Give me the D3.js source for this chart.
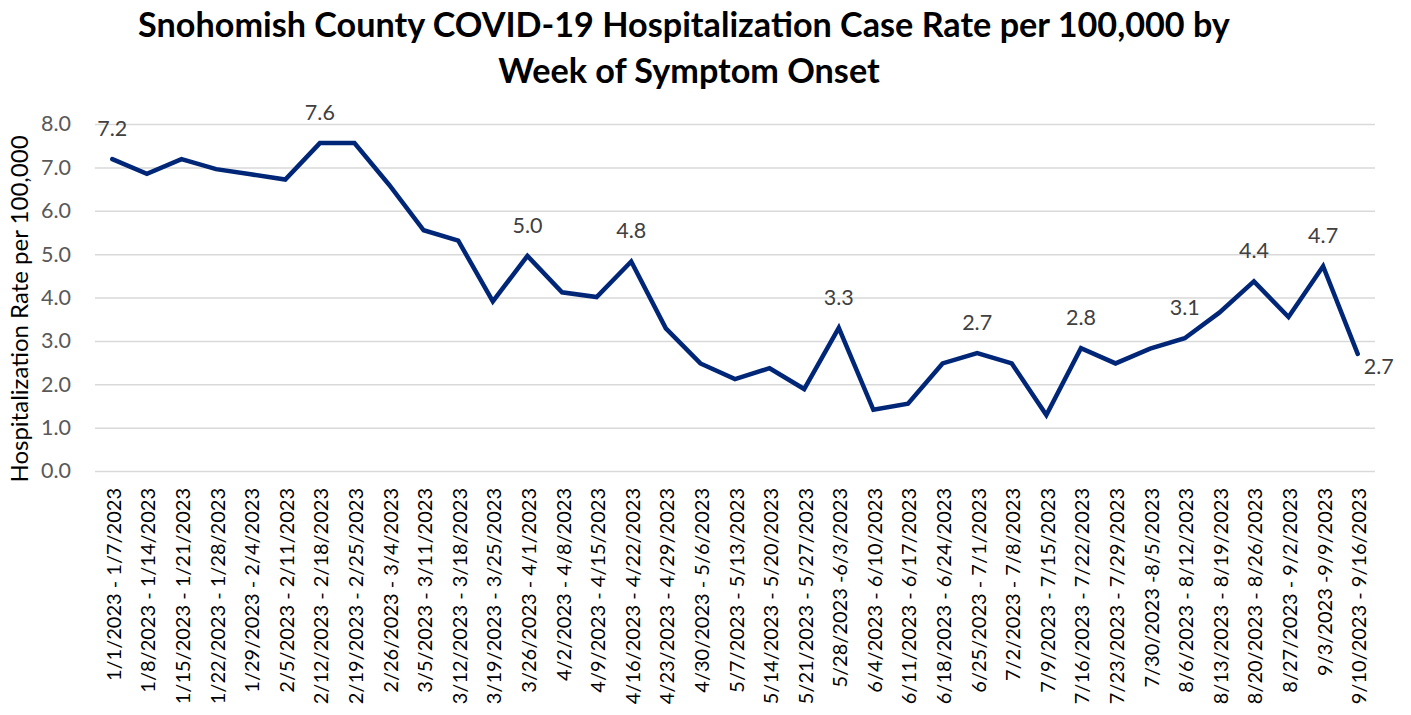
<!DOCTYPE html>
<html>
<head>
<meta charset="utf-8">
<script src="https://cdn.jsdelivr.net/npm/d3@7"></script>
<style>
  html, body { margin: 0; padding: 0; background: #fff; }
  svg { display: block; font-family: Lato, "Noto Sans", sans-serif; }
</style>
</head>
<body>
<svg id="chart" width="1411" height="715"></svg>
<script>
const titleLines = ["Snohomish County COVID-19 Hospitalization Case Rate per 100,000 by", "Week of Symptom Onset"];
const yAxisTitle = "Hospitalization Rate per 100,000";
const weeks = [
  "1/1/2023 - 1/7/2023", "1/8/2023 - 1/14/2023", "1/15/2023 - 1/21/2023", "1/22/2023 - 1/28/2023",
  "1/29/2023 - 2/4/2023", "2/5/2023 - 2/11/2023", "2/12/2023 - 2/18/2023", "2/19/2023 - 2/25/2023",
  "2/26/2023 - 3/4/2023", "3/5/2023 - 3/11/2023", "3/12/2023 - 3/18/2023", "3/19/2023 - 3/25/2023",
  "3/26/2023 - 4/1/2023", "4/2/2023 - 4/8/2023", "4/9/2023 - 4/15/2023", "4/16/2023 - 4/22/2023",
  "4/23/2023 - 4/29/2023", "4/30/2023 - 5/6/2023", "5/7/2023 - 5/13/2023", "5/14/2023 - 5/20/2023",
  "5/21/2023 - 5/27/2023", "5/28/2023 -6/3/2023", "6/4/2023 - 6/10/2023", "6/11/2023 - 6/17/2023",
  "6/18/2023 - 6/24/2023", "6/25/2023 - 7/1/2023", "7/2/2023 - 7/8/2023", "7/9/2023 - 7/15/2023",
  "7/16/2023 - 7/22/2023", "7/23/2023 - 7/29/2023", "7/30/2023 -8/5/2023", "8/6/2023 - 8/12/2023",
  "8/13/2023 - 8/19/2023", "8/20/2023 - 8/26/2023", "8/27/2023 - 9/2/2023", "9/3/2023 -9/9/2023",
  "9/10/2023 - 9/16/2023"
];
const rates = [
  7.19, 6.85, 7.19, 6.96, 6.84, 6.72, 7.56, 7.56, 6.60, 5.55, 5.31, 3.91,
  4.96, 4.12, 4.01, 4.83, 3.29, 2.48, 2.12, 2.37, 1.89, 3.30, 1.41, 1.55,
  2.48, 2.72, 2.48, 1.29, 2.83, 2.48, 2.82, 3.06, 3.65, 4.37, 3.55, 4.72,
  2.70
];
const labelledWeeks = [0, 6, 12, 15, 21, 25, 28, 31, 33, 35, 36];
const yTicks = [0, 1, 2, 3, 4, 5, 6, 7, 8];

const svg = d3.select("#chart");
const plot = { left: 95, right: 1375, top: 124, bottom: 471 };

const x = d3.scalePoint().domain(weeks).range([plot.left, plot.right]).padding(0.5);
const y = d3.scaleLinear().domain([0, 8]).range([plot.bottom, plot.top]);

// Title
const title = svg.append("text")
  .attr("text-anchor", "middle")
  .attr("font-weight", "bold")
  .attr("font-size", 34.2)
  .attr("fill", "#000");
title.append("tspan").attr("x", 684).attr("y", 37).text(titleLines[0]);
title.append("tspan").attr("x", 689).attr("y", 83).text(titleLines[1]);

// Gridlines + y axis labels
const yAxis = d3.axisLeft(y).tickValues(yTicks).tickFormat(d3.format(".1f"))
  .tickSize(-(plot.right - plot.left)).tickPadding(24);
const gy = svg.append("g").attr("transform", `translate(${plot.left},0)`).call(yAxis);
gy.select(".domain").remove();
gy.selectAll(".tick line").attr("stroke", "#d9d9d9").attr("stroke-width", 1.5);
gy.selectAll(".tick text").attr("font-size", 21.5).attr("fill", "#595959")
  .attr("font-family", "Lato, sans-serif");

// X axis labels
const xAxis = d3.axisBottom(x).tickSize(0).tickPadding(0);
const gx = svg.append("g").attr("transform", `translate(0,${plot.bottom})`).call(xAxis);
gx.select(".domain").remove();
gx.selectAll(".tick text")
  .attr("font-size", 20)
  .attr("fill", "#000")
  .attr("font-family", "Lato, sans-serif")
  .attr("text-anchor", "end")
  .attr("dy", null)
  .attr("transform", "translate(0,17) rotate(-90)")
  .attr("x", 0).attr("y", 0)
  .attr("dominant-baseline", "central");

// Y axis title
svg.append("text")
  .attr("transform", `translate(18,309) rotate(-90)`)
  .attr("text-anchor", "middle")
  .attr("dominant-baseline", "central")
  .attr("font-size", 24)
  .attr("fill", "#000")
  .text(yAxisTitle);

// Line
const line = d3.line().x((d, i) => x(weeks[i])).y(d => y(d));
svg.append("path")
  .datum(rates)
  .attr("d", line)
  .attr("fill", "none")
  .attr("stroke", "#002677")
  .attr("stroke-width", 4.5)
  .attr("stroke-linejoin", "miter")
  .attr("stroke-linecap", "round");

// Data labels
const fmt = d3.format(".1f");
const lastIdx = weeks.length - 1;
svg.append("g").selectAll("text")
  .data(labelledWeeks)
  .join("text")
  .attr("x", i => i === lastIdx ? x(weeks[i]) + 6 : x(weeks[i]))
  .attr("y", i => i === lastIdx ? y(rates[i]) + 12 : y(rates[i]) - 31)
  .attr("text-anchor", i => i === lastIdx ? "start" : "middle")
  .attr("dominant-baseline", "central")
  .attr("font-size", 21.5)
  .attr("fill", "#404040")
  .text(i => fmt(rates[i]));
</script>
</body>
</html>
